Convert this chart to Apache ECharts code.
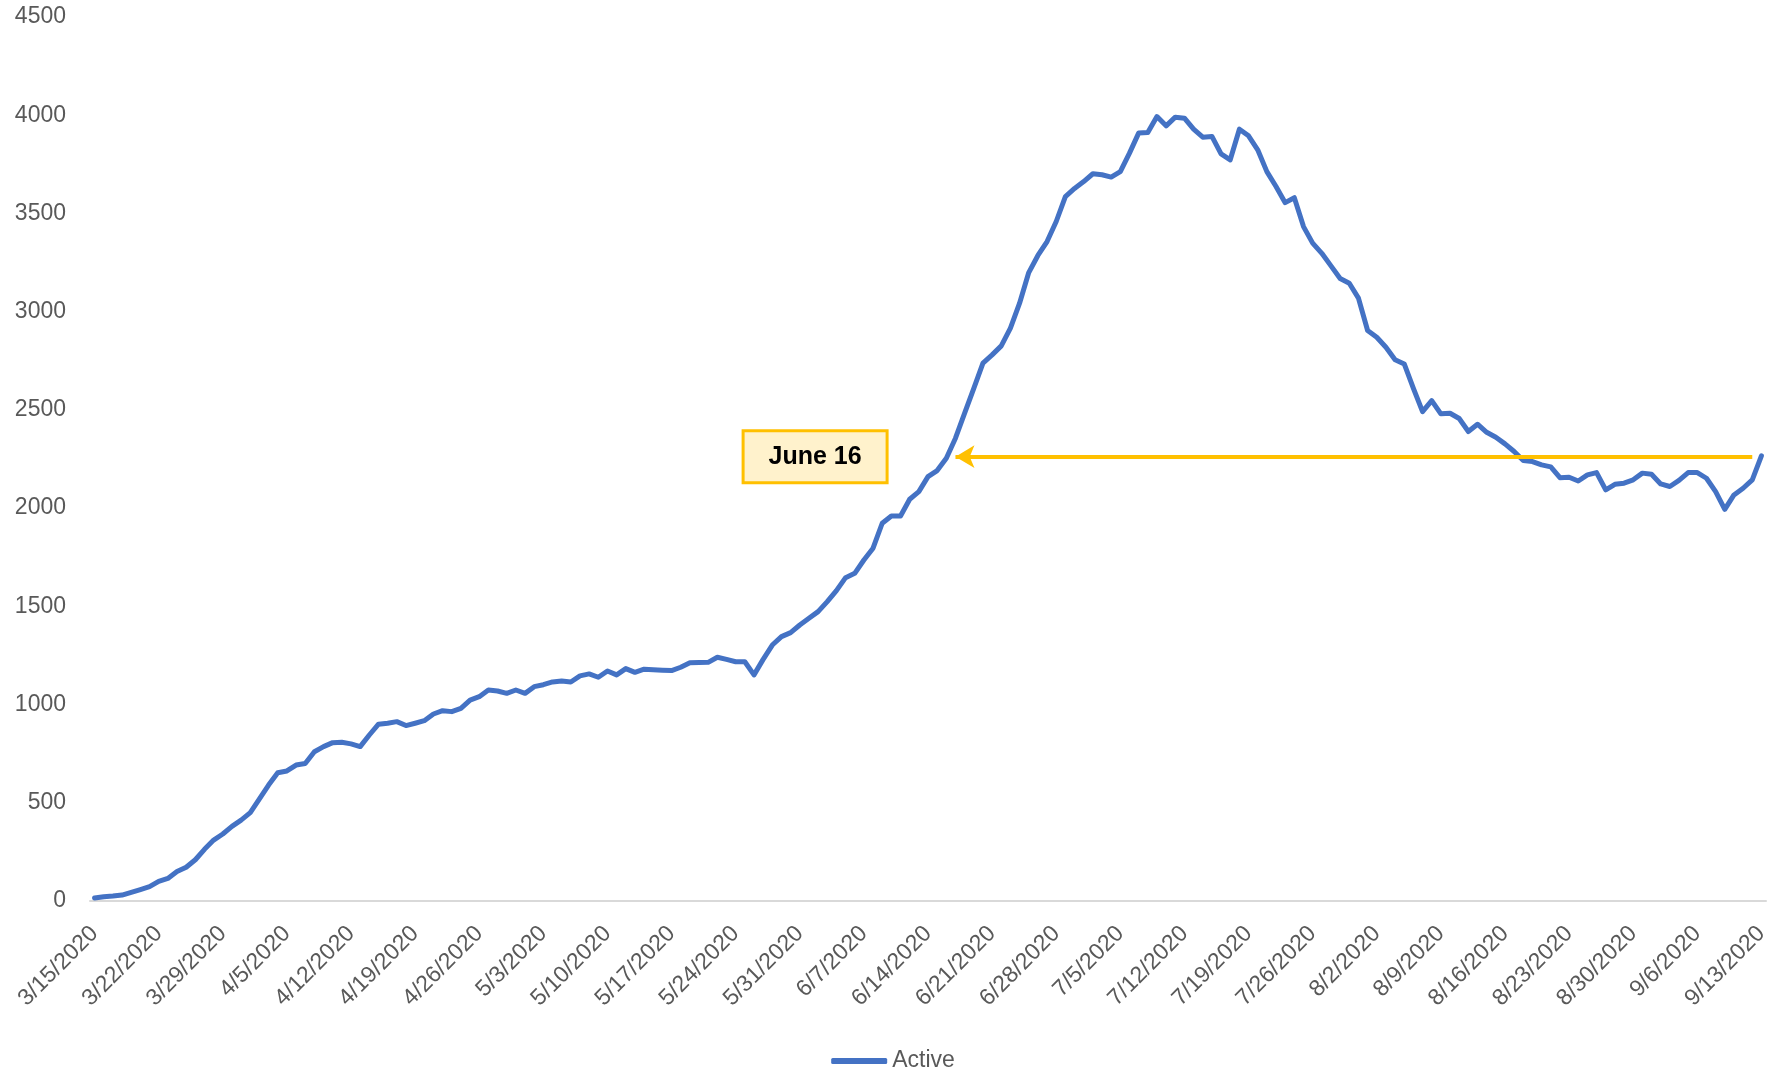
<!DOCTYPE html>
<html>
<head>
<meta charset="utf-8">
<script src="https://cdn.jsdelivr.net/npm/echarts@6/dist/echarts.min.js"></script>
<style>
html, body { margin: 0; padding: 0; background: #fff; }
#main { width: 1786px; height: 1073px; }
</style>
</head>
<body>
<div id="main"></div>
<script>
// active cases per day, one array per month (March starts on the 15th)
var march = [15, 22, 25, 30, 44, 58, 73, 100, 115, 150, 172, 210, 263, 310, 341, 380, 412];
var april = [450, 520, 590, 653, 662, 692, 700, 760, 786, 806, 808, 800, 786, 845, 900,
    905, 913, 893, 905, 918, 952, 969, 964, 981, 1023, 1040, 1074, 1069, 1057, 1074];
var may = [1057, 1091, 1101, 1115, 1120, 1115, 1146, 1156, 1139, 1171, 1151, 1183, 1164, 1180, 1177,
    1175, 1173, 1190, 1213, 1214, 1215, 1241, 1230, 1218, 1218, 1151, 1230, 1303, 1346, 1366, 1405];
var june = [1439, 1473, 1524, 1580, 1646, 1668, 1736, 1796, 1923, 1960, 1960, 2045, 2084, 2160, 2191,
    2254, 2356, 2483, 2610, 2738, 2780, 2826, 2916, 3043, 3199, 3286, 3357, 3459, 3586, 3627];
var july = [3662, 3702, 3697, 3685, 3713, 3807, 3909, 3912, 3993, 3946, 3990, 3985, 3929, 3888, 3892,
    3803, 3773, 3929, 3895, 3824, 3713, 3637, 3555, 3580, 3433, 3349, 3297, 3233, 3169, 3145, 3069];
var august = [2904, 2870, 2819, 2755, 2734, 2610, 2491, 2547, 2480, 2483, 2456, 2390, 2427, 2386, 2361,
    2327, 2288, 2242, 2237, 2220, 2210, 2155, 2157, 2138, 2169, 2181, 2093, 2121, 2127, 2144, 2178];
var september = [2172, 2123, 2110, 2141, 2181, 2181, 2152, 2084, 1994, 2067, 2101, 2144, 2266];

var months = [[3, 15, march], [4, 1, april], [5, 1, may], [6, 1, june],
    [7, 1, july], [8, 1, august], [9, 1, september]];

var yTicks = [0, 4500, 500];   // min, max, interval
var noteText = 'June 16';
var noteLevel = 2262;           // level of the arrow (June 16 count)

var dates = [];
var active = [];
months.forEach(function (m) {
    m[2].forEach(function (v, i) {
        dates.push(m[0] + '/' + (m[1] + i) + '/2020');
        active.push(v);
    });
});
var noteIdx = dates.indexOf('6/17/2020');
var lastIdx = dates.length - 2;
var boxIdx = dates.indexOf('6/2/2020');

var font = 'Liberation Sans, Arial, sans-serif';
var myChart = echarts.init(document.getElementById('main'));
var option = {
    animation: false,
    textStyle: { fontFamily: font },
    grid: { left: 90, right: 20, top: 17, bottom: 172, containLabel: false, outerBoundsMode: 'none' },
    legend: {
        data: [{ name: 'Active', icon: 'roundRect' }],
        left: 'center',
        top: 1043,
        itemWidth: 56,
        itemHeight: 6,
        textStyle: { color: '#595959', fontSize: 23, fontFamily: font, lineHeight: 26 }
    },
    xAxis: {
        type: 'category',
        data: dates,
        boundaryGap: true,
        axisLine: { lineStyle: { color: '#D9D9D9', width: 2 } },
        axisTick: { interval: 6, length: 9, lineStyle: { color: '#D9D9D9', width: 2 } },
        axisLabel: {
            interval: 6,
            rotate: 45,
            margin: 29,
            color: '#595959',
            fontSize: 23,
            fontFamily: font
        },
        splitLine: { show: false }
    },
    yAxis: {
        type: 'value',
        min: yTicks[0],
        max: yTicks[1],
        interval: yTicks[2],
        axisLine: { show: false },
        axisTick: { show: false },
        splitLine: { show: false },
        axisLabel: {
            color: '#595959', fontSize: 23, margin: 24, fontFamily: font,
            formatter: function (v) { return String(v); }
        }
    },
    series: [{
        name: 'Active',
        type: 'line',
        data: active,
        symbol: 'none',
        lineStyle: { color: '#4472C4', width: 5, join: 'round', cap: 'round' },
        itemStyle: { color: '#4472C4' },
        markLine: {
            silent: true,
            symbol: ['none', 'arrow'],
            symbolSize: [17, 19],
            label: { show: false },
            lineStyle: { color: '#FFC000', width: 4, type: 'solid' },
            itemStyle: { color: '#FFC000' },
            data: [[
                { coord: [lastIdx, noteLevel] },
                { coord: [noteIdx, noteLevel] }
            ]]
        }
    }]
};
myChart.setOption(option);

// callout box placed from data coordinates
var c = myChart.convertToPixel({ seriesIndex: 0 }, [boxIdx, noteLevel]);
myChart.setOption({
    graphic: [{
        type: 'group',
        x: c[0] - 3,
        y: c[1],
        children: [{
            type: 'rect',
            shape: { x: -72, y: -26, width: 144, height: 52 },
            style: { fill: '#FFF2CC', stroke: '#FFC000', lineWidth: 3 }
        }, {
            type: 'text',
            x: 0,
            y: 0,
            style: {
                text: noteText,
                fill: '#000',
                font: 'bold 25px ' + font,
                align: 'center',
                verticalAlign: 'middle'
            }
        }]
    }]
});
</script>
</body>
</html>
